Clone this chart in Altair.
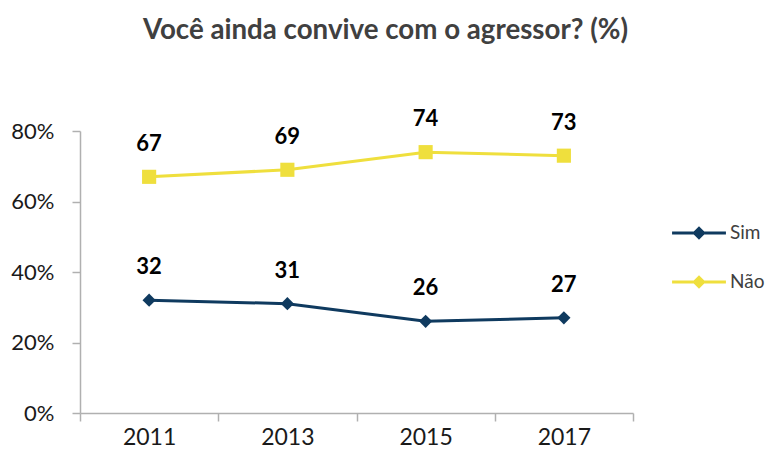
import altair as alt
import pandas as pd

anos = ["2011", "2013", "2015", "2017"]
sim = [32, 31, 26, 27]
nao = [67, 69, 74, 73]
series = ["Sim", "Não"]
colors = ["#0f3a5f", "#efdf3d"]
y_ticks = [0, 20, 40, 60, 80]

rows = []
for a, s, n in zip(anos, sim, nao):
    rows.append({"ano": a, "serie": "Sim", "valor": s})
    rows.append({"ano": a, "serie": "Não", "valor": n})
df = pd.DataFrame(rows)

FONT = "Lato"
AXIS_GRAY = "#b0b0b0"

x_enc = alt.X(
    "ano:N",
    sort=anos,
    scale=alt.Scale(type="band", paddingInner=0, paddingOuter=0),
    axis=alt.Axis(
        title=None, labelAngle=0, tickBand="extent", domainColor=AXIS_GRAY,
        tickColor=AXIS_GRAY, tickSize=8, labelFontSize=23, labelFont=FONT,
        labelColor="#1a1a1a", labelPadding=5, domainWidth=1.5, tickWidth=1.5,
    ),
)
y_enc = alt.Y(
    "valor:Q",
    scale=alt.Scale(domain=[0, 80], nice=False),
    axis=alt.Axis(
        title=None, values=y_ticks, labelExpr="datum.value + '%'", grid=False,
        domainColor=AXIS_GRAY, tickColor=AXIS_GRAY, tickSize=8,
        labelFontSize=22, labelFont=FONT, labelColor="#1a1a1a", labelPadding=18,
        domainWidth=1.5, tickWidth=1.5,
    ),
)
color_scale = alt.Scale(domain=series, range=colors)

diamond_path = ("M-1,-0.056 L1,-0.056 L1,0.056 L-1,0.056 Z "
                "M0,-0.25 L0.25,0 L0,0.25 L-0.25,0 Z")

leg = alt.Legend(
    title=None, orient="none", legendX=592, legendY=75,
    symbolType=diamond_path, symbolSize=2900, symbolStrokeWidth=0,
    labelFontSize=19, labelFont=FONT,
    labelColor="#404040", rowPadding=12, labelOffset=4,
)

base = alt.Chart(df)

lines = base.mark_line(strokeWidth=3).encode(
    x=x_enc, y=y_enc,
    color=alt.Color("serie:N", scale=color_scale, legend=leg),
)

pts_sim = base.transform_filter("datum.serie == 'Sim'").mark_point(
    shape="diamond", filled=True, size=175, opacity=1
).encode(x=x_enc, y=y_enc, color=alt.Color("serie:N", scale=color_scale, legend=None))

pts_nao = base.transform_filter("datum.serie == 'Não'").mark_point(
    shape="square", filled=True, size=200, opacity=1
).encode(x=x_enc, y=y_enc, color=alt.Color("serie:N", scale=color_scale, legend=None))

labels = base.mark_text(
    fontSize=22, fontWeight="bold", font=FONT, color="#000000",
    baseline="alphabetic", dy=-26,
).encode(x=x_enc, y=y_enc, text=alt.Text("valor:Q"))

chart = alt.layer(lines, pts_sim, pts_nao, labels).properties(
    width=553,
    height=282,
    background="white",
    title=alt.TitleParams(
        "Você ainda convive com o agressor? (%)", fontSize=27.7, font=FONT,
        fontWeight="bold", color="#404040", anchor="middle", offset=63, dx=29,
    ),
    autosize=alt.AutoSizeParams(type="none"),
    padding={"left": 72, "top": 123, "right": 135, "bottom": 36},
).configure_view(strokeWidth=0)

chart.save("out.html", embed_options={"renderer": "svg", "actions": False})
